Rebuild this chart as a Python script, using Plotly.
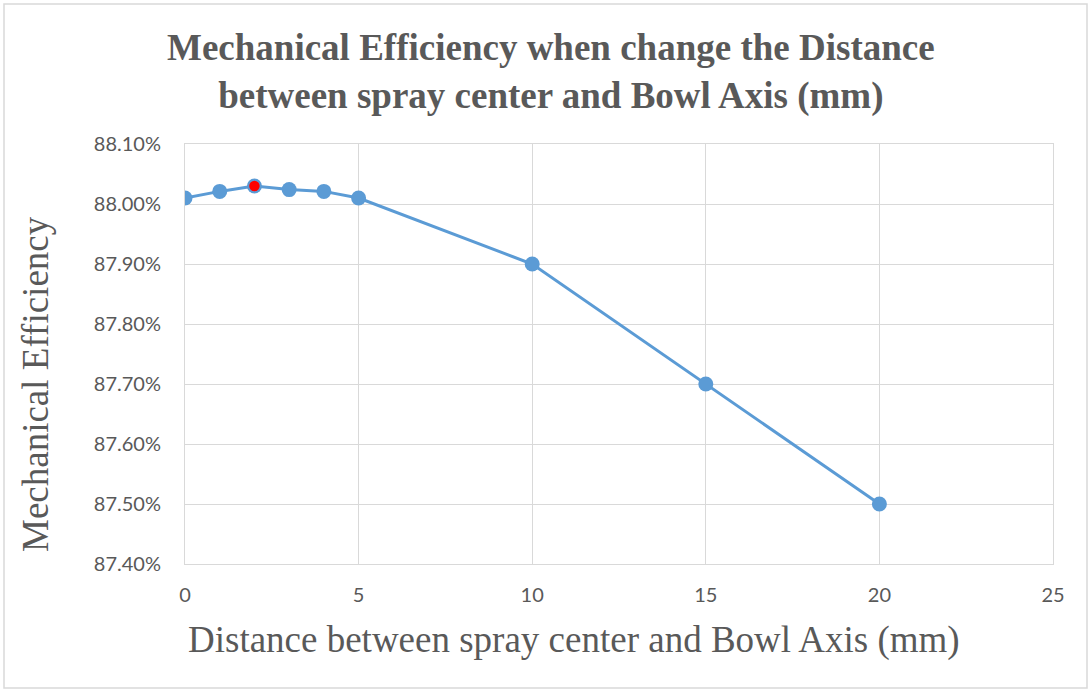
import plotly.graph_objects as go

# Distance between spray center and bowl axis (mm)
distance_mm = [0, 1, 2, 3, 4, 5, 10, 15, 20]
# Mechanical efficiency (%)
efficiency_pct = [88.010, 88.021, 88.030, 88.024, 88.021, 88.010, 87.900, 87.700, 87.500]
# Highlighted optimum
best_index = 2

x_ticks = [0, 5, 10, 15, 20, 25]
y_ticks = [87.40, 87.50, 87.60, 87.70, 87.80, 87.90, 88.00, 88.10]
y_tick_text = [f"{v:.2f}%" for v in y_ticks]

blue = "#5B9BD5"
grid = "#D9D9D9"
text_gray = "#595959"

W, H = 1088, 689
L, R, T, B = 185, 35, 144, 125
PW, PH = W - L - R, H - T - B


def px_x(px):
    return (px - L) / PW


def px_y(py):
    return (H - B - py) / PH


fig = go.Figure()
fig.add_trace(go.Scatter(
    x=distance_mm, y=efficiency_pct, mode="lines+markers",
    line=dict(color=blue, width=3),
    marker=dict(color=blue, size=15, line=dict(color=blue, width=0)),
    showlegend=False, hoverinfo="x+y",
))
fig.add_trace(go.Scatter(
    x=[distance_mm[best_index]], y=[efficiency_pct[best_index]], mode="markers",
    marker=dict(color="#FF0000", size=12, line=dict(color=blue, width=1.5)),
    showlegend=False, hoverinfo="x+y",
))

fig.update_layout(
    width=W, height=H,
    margin=dict(l=L, r=R, t=T, b=B),
    paper_bgcolor="white", plot_bgcolor="white",
    xaxis=dict(
        range=[0, 25], tickvals=x_ticks, showgrid=True, gridcolor=grid, gridwidth=1,
        zeroline=False, showline=True, linecolor=grid, mirror=True,
        ticks="", ticklabelstandoff=13,
        tickfont=dict(family="Lato", size=20, color=text_gray),
    ),
    yaxis=dict(
        range=[87.40, 88.10], tickvals=y_ticks, ticktext=y_tick_text,
        showgrid=True, gridcolor=grid, gridwidth=1, zeroline=False,
        showline=True, linecolor=grid, mirror=True, ticks="", ticklabelstandoff=19,
        tickfont=dict(family="Lato", size=20, color=text_gray),
    ),
    annotations=[
        dict(text="<b>Mechanical Efficiency when change the Distance<br>between spray center and Bowl Axis (mm)</b>",
             xref="paper", yref="paper", x=px_x(551), y=px_y(72),
             xanchor="center", yanchor="middle", showarrow=False,
             font=dict(family="Liberation Serif", size=37, color=text_gray)),
        dict(text="Distance between spray center and Bowl Axis (mm)",
             xref="paper", yref="paper", x=px_x(574), y=px_y(640),
             xanchor="center", yanchor="middle", showarrow=False,
             font=dict(family="Liberation Serif", size=37, color=text_gray)),
        dict(text="Mechanical Efficiency", textangle=-90,
             xref="paper", yref="paper", x=px_x(35), y=px_y(384),
             xanchor="center", yanchor="middle", showarrow=False,
             font=dict(family="Liberation Serif", size=37, color=text_gray)),
    ],
    shapes=[dict(type="rect", xref="paper", yref="paper",
                 x0=px_x(4), x1=px_x(1087), y0=px_y(688), y1=px_y(4),
                 line=dict(color="#D9D9D9", width=1.5), layer="below")],
)

fig.write_html("out.html")
